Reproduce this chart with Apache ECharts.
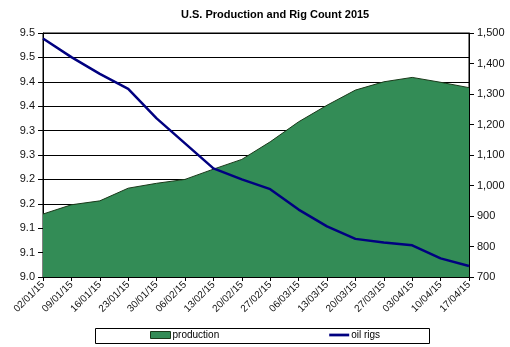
<!DOCTYPE html>
<html><head><meta charset="utf-8">
<script src="https://cdn.jsdelivr.net/npm/echarts@6/dist/echarts.min.js"></script>
<style>html,body{margin:0;padding:0;background:#fff}#c{width:510px;height:347px}</style>
</head><body><div id="c"></div>
<script>
const categories = ["02/01/15","09/01/15","16/01/15","23/01/15","30/01/15","06/02/15","13/02/15","20/02/15","27/02/15","06/03/15","13/03/15","20/03/15","27/03/15","03/04/15","10/04/15","17/04/15"];
const production = [9.129,9.148,9.156,9.182,9.192,9.200,9.221,9.241,9.277,9.318,9.352,9.383,9.400,9.409,9.399,9.388];
const oilRigs = [1482,1421,1366,1317,1220,1138,1056,1020,988,921,866,825,813,804,761,736];
const leftTickLabels = ["9.0","9.1","9.1","9.2","9.2","9.3","9.3","9.4","9.4","9.5","9.5"];
const rightTickLabels = ["700","800","900","1,000","1,100","1,200","1,300","1,400","1,500"];

const chart = echarts.init(document.getElementById('c'));
const font = 'Arial, "Liberation Sans", sans-serif';
chart.setOption({
  animation: false,
  title: {
    text: 'U.S. Production and Rig Count 2015',
    left: 181, top: 9, padding: 0,
    textStyle: { fontFamily: font, fontSize: 11, fontWeight: 'bold', color: '#000' }
  },
  grid: { left: 43, right: 41, top: 33, bottom: 70, show: true, borderColor: '#000', borderWidth: 1, backgroundColor: '#fff' },
  graphic: [{
    type: 'rect', shape: { x: 95.5, y: 328.5, width: 334, height: 15 },
    style: { fill: '#fff', stroke: '#000', lineWidth: 1 }, z: -1
  }],
  legend: {
    left: 150, top: 330, padding: 0, itemGap: 110,
    itemWidth: 20, itemHeight: 7, symbolKeepAspect: true,
    textStyle: { fontFamily: font, fontSize: 10, color: '#000', padding: [0,0,0,-3] },
    data: [
      { name: 'production', icon: 'rect', itemStyle: { color: '#338c56', borderColor: '#1a3a1a', borderWidth: 1 } },
      { name: 'oil rigs', icon: 'path://M0,0L16,0L16,2.2L0,2.2Z', itemStyle: { color: '#000080', borderWidth: 0 } }
    ]
  },
  xAxis: {
    type: 'category', data: categories, boundaryGap: false,
    axisLine: { lineStyle: { color: '#000', width: 1 } },
    axisTick: { show: true, length: 4, lineStyle: { color: '#000' } },
    axisLabel: { rotate: 45, fontFamily: font, fontSize: 10, color: '#111', margin: 6, interval: 0 },
    splitLine: { show: false }
  },
  yAxis: [{
    type: 'value', min: 9.0, max: 9.5, interval: 0.05,
    axisLine: { show: true, lineStyle: { color: '#000' } },
    axisTick: { show: true, length: 5, lineStyle: { color: '#000' } },
    axisLabel: { fontFamily: font, fontSize: 11, color: '#111', margin: 8,
      formatter: v => leftTickLabels[Math.round((v - 9.0) / 0.05)] },
    splitLine: { show: true, lineStyle: { color: '#000', width: 1 } }
  }, {
    type: 'value', min: 700, max: 1500, interval: 100,
    axisLine: { show: true, lineStyle: { color: '#000' } },
    axisTick: { show: true, length: 5, lineStyle: { color: '#000' } },
    axisLabel: { fontFamily: font, fontSize: 11, color: '#111', margin: 8,
      formatter: v => rightTickLabels[Math.round((v - 700) / 100)] },
    splitLine: { show: false }
  }],
  series: [{
    name: 'production', type: 'line', yAxisIndex: 0, data: production,
    symbol: 'none', lineStyle: { color: '#1a3a1a', width: 1 },
    itemStyle: { color: '#338c56' },
    areaStyle: { color: '#338c56', opacity: 1 }, z: 2
  }, {
    name: 'oil rigs', type: 'line', yAxisIndex: 1, data: oilRigs,
    symbol: 'none', lineStyle: { color: '#000080', width: 2.5 },
    itemStyle: { color: '#000080' }, z: 3
  }]
});
</script></body></html>
